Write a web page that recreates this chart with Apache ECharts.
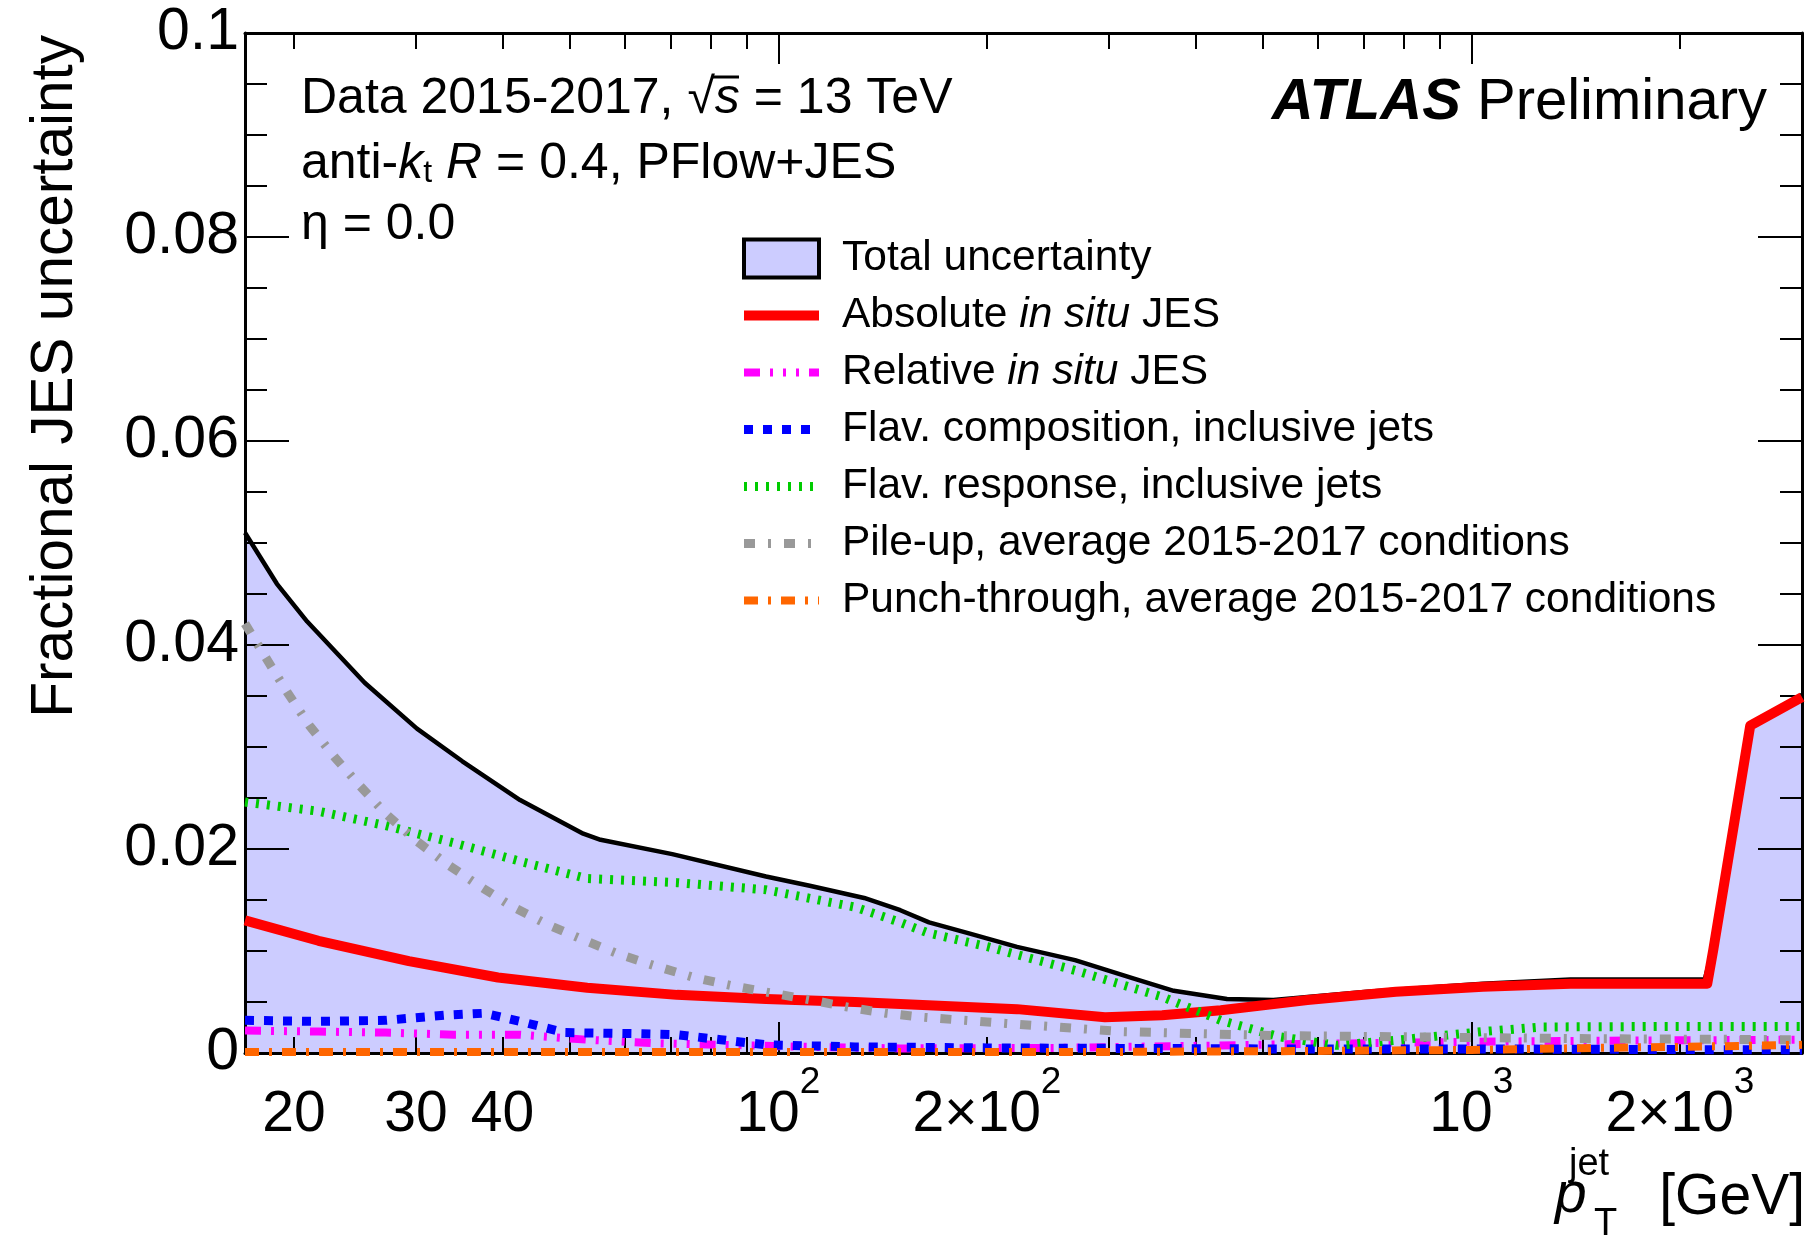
<!DOCTYPE html>
<html>
<head>
<meta charset="utf-8">
<script src="https://cdn.jsdelivr.net/npm/echarts@6/dist/echarts.min.js"></script>
<style>
html,body{margin:0;padding:0;background:#fff;}
#chart{width:1814px;height:1243px;}
</style>
</head>
<body>
<div id="chart"></div>
<script>
// ---------------- data (pT in GeV, fractional uncertainty) ----------------
const totalPt  = [17, 18.9, 20.9, 25.3, 30.1, 35, 42.4, 52.3, 55.4, 70.3, 96, 111, 133, 150, 165, 189, 221, 268, 326, 372, 444, 518, 707, 1039, 1390, 2171, 2234, 2526, 3000];
const totalVal = [0.0510, 0.0460, 0.0423, 0.0363, 0.0318, 0.0286, 0.0248, 0.0215, 0.0209, 0.0195, 0.0173, 0.0164, 0.0152, 0.0140, 0.0128, 0.0117, 0.0104, 0.0091, 0.0073, 0.0061, 0.0053, 0.0052, 0.0060, 0.0068, 0.0072, 0.0072, 0.0103, 0.0323, 0.0351];

const absPt  = [17, 21.7, 29.3, 39.4, 53, 71.4, 96, 129, 150, 221, 296, 358, 435, 580, 778, 1039, 1390, 2190, 2234, 2526, 3000];
const absVal = [0.0130, 0.0110, 0.0090, 0.0074, 0.0064, 0.0057, 0.0053, 0.0050, 0.0048, 0.0043, 0.0035, 0.0037, 0.0042, 0.0052, 0.0060, 0.0065, 0.0068, 0.0068, 0.0101, 0.0321, 0.0349];

const relPt  = [17, 21.7, 27.1, 34, 42.4, 53, 66, 83, 111, 150, 250, 400, 600, 1000, 1500, 3000];
const relVal = [0.0022, 0.0021, 0.0020, 0.0018, 0.0018, 0.0013, 0.00096, 0.0008, 0.0006, 0.00045, 0.0005, 0.0007, 0.0009, 0.0011, 0.0012, 0.0013];

const compPt  = [17, 21.7, 27.1, 33, 37.7, 42.4, 49.2, 61.5, 71.4, 82.6, 96, 129, 200, 500, 1000, 3000];
const compVal = [0.0032, 0.0031, 0.0032, 0.0037, 0.0039, 0.0031, 0.0020, 0.0019, 0.0018, 0.0013, 0.0008, 0.0006, 0.0005, 0.0004, 0.0004, 0.0003];

const respPt  = [17, 21.7, 27.1, 34, 42.4, 53, 71.4, 96, 129, 150, 164, 201, 268, 358, 435, 528, 639, 778, 1039, 1262, 1860, 3000];
const respVal = [0.0246, 0.0237, 0.0223, 0.0206, 0.0188, 0.0171, 0.0167, 0.0160, 0.0143, 0.0128, 0.0118, 0.0104, 0.0081, 0.0055, 0.0032, 0.0016, 0.00075, 0.00125, 0.0021, 0.00255, 0.0026, 0.0026];

const puPt  = [17, 18.2, 19.55, 21.06, 22.9, 24.9, 27.1, 29.9, 33.3, 37, 41.2, 46.4, 52.3, 58.8, 66.7, 75.6, 85.7, 97.4, 111.4, 126, 143, 162, 213, 313, 402, 528, 778, 1039, 1532, 3000];
const puVal = [0.0421, 0.0388, 0.0354, 0.0321, 0.0290, 0.0262, 0.0235, 0.0209, 0.0185, 0.0164, 0.0144, 0.0126, 0.0111, 0.0097, 0.0085, 0.0074, 0.0066, 0.0059, 0.0052, 0.0045, 0.0039, 0.0035, 0.0029, 0.0021, 0.0019, 0.0017, 0.0016, 0.0015, 0.0014, 0.0013];

const ptPt  = [17, 300, 600, 1000, 1500, 2000, 3000];
const ptVal = [0.0001, 0.0001, 0.0002, 0.0003, 0.0005, 0.0006, 0.0008];

// ---------------- axes ----------------
const xMin = 17, xMax = 3000;
const xLabelTicks = [20, 30, 40, 100, 200, 1000, 2000];
const xLabelText  = {20:'{m|20}', 30:'{m|30}', 40:'{m|40}', 100:'{m|10}{s|2}', 200:'{m|2×10}{s|2}', 1000:'{m|10}{s|3}', 2000:'{m|2×10}{s|3}'};
const xMinorTicks = [20, 30, 40, 50, 60, 70, 80, 90, 200, 300, 400, 500, 600, 700, 800, 900, 2000, 3000];
const xMajorTicks = [100, 1000];
const yMin = 0, yMax = 0.1, yStep = 0.02;

const seriesNames = ['Total uncertainty', 'Absolute in situ JES', 'Relative in situ JES',
  'Flav. composition, inclusive jets', 'Flav. response, inclusive jets',
  'Pile-up, average 2015-2017 conditions', 'Punch-through, average 2015-2017 conditions'];

const FONT = '"Liberation Sans", Arial, Helvetica, sans-serif';
const lg = Math.log10;
const pts = (xs, ys) => xs.map((x, i) => [lg(x), ys[i]]);

function xAxis(pos, ticks, len, showLine, showLabel) {
  return {
    type: 'value', position: pos, min: lg(xMin), max: lg(xMax), z: 10,
    axisLine: {show: showLine, onZero: false, lineStyle: {color: '#000', width: 3}},
    axisTick: {show: true, inside: true, length: len, customValues: ticks.map(lg), lineStyle: {color: '#000', width: 2}},
    axisLabel: {
      show: showLabel, customValues: xLabelTicks.map(lg), margin: 11,
      fontFamily: FONT, fontSize: 57, color: '#000',
      formatter: v => xLabelText[Math.round(Math.pow(10, v))] || '',
      rich: {
        m: {fontFamily: FONT, fontSize: 57, lineHeight: 80, verticalAlign: 'bottom', color: '#000'},
        s: {fontFamily: FONT, fontSize: 37, lineHeight: 37, verticalAlign: 'top', color: '#000'}
      }
    },
    splitLine: {show: false}
  };
}
function yAxis(pos, showLabel) {
  return {
    type: 'value', position: pos, min: yMin, max: yMax, interval: yStep, z: 10,
    axisLine: {show: true, onZero: false, lineStyle: {color: '#000', width: 3}},
    axisTick: {show: true, inside: true, length: 44, lineStyle: {color: '#000', width: 2}},
    minorTick: {show: true, splitNumber: 4, length: 22, lineStyle: {color: '#000', width: 2}},
    axisLabel: {show: showLabel, margin: 6, fontFamily: FONT, fontSize: 59, color: '#000'},
    splitLine: {show: false}, minorSplitLine: {show: false}
  };
}

const lineSeries = (name, xs, ys, color, width, dash) => ({
  name, type: 'line', data: pts(xs, ys), xAxisIndex: 0, yAxisIndex: 0,
  symbol: 'none', clip: false, smooth: false, z: 12,
  lineStyle: {color, width, type: dash || 'solid', cap: 'butt', join: 'round'},
  itemStyle: {color}
});

const styles = {
  abs:  {color: '#ff0000', width: 10, dash: 'solid'},
  rel:  {color: '#ff00ff', width: 8, dash: [16, 10, 3, 10, 3, 10, 3, 10]},
  comp: {color: '#0000ff', width: 9, dash: [9, 10]},
  resp: {color: '#00cc00', width: 9, dash: [3, 8]},
  pu:   {color: '#999999', width: 9, dash: [11, 13, 3, 13]},
  pt:   {color: '#ff6600', width: 8, dash: [14, 10, 3, 10]}
};

const series = [
  {
    name: seriesNames[0], type: 'line', data: pts(totalPt, totalVal), xAxisIndex: 0, yAxisIndex: 0,
    symbol: 'none', clip: true, z: 2,
    lineStyle: {color: '#000', width: 4.5, join: 'round'},
    areaStyle: {color: '#ccccff', opacity: 1},
    itemStyle: {color: '#ccccff'}
  },
  lineSeries(seriesNames[1], absPt, absVal, styles.abs.color, styles.abs.width, styles.abs.dash),
  lineSeries(seriesNames[2], relPt, relVal, styles.rel.color, styles.rel.width, styles.rel.dash),
  lineSeries(seriesNames[3], compPt, compVal, styles.comp.color, styles.comp.width, styles.comp.dash),
  lineSeries(seriesNames[4], respPt, respVal, styles.resp.color, styles.resp.width, styles.resp.dash),
  lineSeries(seriesNames[5], puPt, puVal, styles.pu.color, styles.pu.width, styles.pu.dash),
  lineSeries(seriesNames[6], ptPt, ptVal, styles.pt.color, styles.pt.width, styles.pt.dash)
];

const legendKeys = [null, 'abs', 'rel', 'comp', 'resp', 'pu', 'pt'];
const legendData = seriesNames.map((n, i) => {
  if (i === 0) return {name: n, icon: 'rect', itemStyle: {color: '#ccccff', borderColor: '#000', borderWidth: 4, opacity: 1}};
  const s = styles[legendKeys[i]];
  return {name: n, itemStyle: {opacity: 0}, lineStyle: {color: s.color, width: s.width, type: s.dash, opacity: 1}};
});

const chart = echarts.init(document.getElementById('chart'), null, {renderer: 'canvas'});
chart.setOption({
  animation: false,
  backgroundColor: '#fff',
  grid: {left: 245, top: 33, right: 12, bottom: 190, containLabel: false},
  xAxis: [
    xAxis('bottom', xMinorTicks, 16, true, true),
    xAxis('bottom', xMajorTicks, 31, false, false),
    xAxis('top', xMinorTicks, 16, true, false),
    xAxis('top', xMajorTicks, 31, false, false)
  ],
  yAxis: [yAxis('left', true), yAxis('right', false)],
  legend: {
    show: true, orient: 'vertical', left: 739, top: 237, padding: 0,
    itemWidth: 75, itemHeight: 38, itemGap: 14, selectedMode: false,
    data: legendData,
    formatter: n => n.replace('in situ', '{i|in situ}'),
    textStyle: {
      fontFamily: FONT, fontSize: 42.5, color: '#000', lineHeight: 38, padding: [0, 0, 0, 18],
      rich: {i: {fontFamily: FONT, fontSize: 42.5, fontStyle: 'italic', color: '#000', lineHeight: 38}}
    }
  },
  series,
  graphic: [
    {type: 'text', x: 301, y: 99, z: 100, style: {
      text: 'Data 2015-2017, √{i|s} = 13 TeV', textAlign: 'left', textVerticalAlign: 'middle',
      font: '50px ' + FONT, fill: '#000',
      rich: {i: {fontFamily: FONT, fontSize: 50, fontStyle: 'italic', fill: '#000'}}
    }},
    {type: 'line', z: 100, shape: {x1: 712, y1: 77, x2: 739, y2: 77}, style: {stroke: '#000', lineWidth: 3}},
    {type: 'text', x: 301, y: 164, z: 100, style: {
      text: 'anti-{i|k}{sub|t} {i|R} = 0.4, PFlow+JES', textAlign: 'left', textVerticalAlign: 'middle',
      font: '50px ' + FONT, fill: '#000',
      rich: {
        i: {fontFamily: FONT, fontSize: 50, fontStyle: 'italic', fill: '#000', lineHeight: 50},
        sub: {fontFamily: FONT, fontSize: 32, fill: '#000', lineHeight: 32, verticalAlign: 'bottom', padding: [0, 0, 0, 0]}
      }
    }},
    {type: 'text', x: 301, y: 225, z: 100, style: {
      text: 'η = 0.0', textAlign: 'left', textVerticalAlign: 'middle', font: '50px ' + FONT, fill: '#000'
    }},
    {type: 'text', x: 1767, y: 103, z: 100, style: {
      text: '{b|ATLAS} Preliminary', textAlign: 'right', textVerticalAlign: 'middle',
      font: '58px ' + FONT, fill: '#000',
      rich: {b: {fontFamily: FONT, fontSize: 58, fontWeight: 'bold', fontStyle: 'italic', fill: '#000'}}
    }},
    {type: 'text', x: 56, y: 35, rotation: Math.PI / 2, z: 100, style: {
      text: 'Fractional JES uncertainty', textAlign: 'right', textVerticalAlign: 'middle',
      font: '58.5px ' + FONT, fill: '#000'
    }},
    {type: 'text', x: 1555, y: 1196, z: 100, style: {
      text: 'p', textAlign: 'left', textVerticalAlign: 'middle', font: 'italic 57px ' + FONT, fill: '#000'
    }},
    {type: 'text', x: 1569, y: 1165, z: 100, style: {
      text: 'jet', textAlign: 'left', textVerticalAlign: 'middle', font: '38px ' + FONT, fill: '#000'
    }},
    {type: 'text', x: 1594, y: 1225, z: 100, style: {
      text: 'T', textAlign: 'left', textVerticalAlign: 'middle', font: '38px ' + FONT, fill: '#000'
    }},
    {type: 'text', x: 1805, y: 1198, z: 100, style: {
      text: '[GeV]', textAlign: 'right', textVerticalAlign: 'middle', font: '57px ' + FONT, fill: '#000'
    }}
  ]
});
</script>
</body>
</html>
